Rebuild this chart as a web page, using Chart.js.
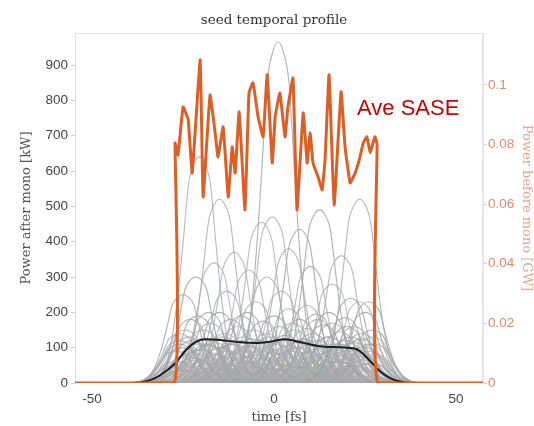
<!DOCTYPE html>
<html>
<head>
<meta charset="utf-8">
<script src="https://cdn.jsdelivr.net/npm/chart.js@4.4.1/dist/chart.umd.min.js"></script>
<style>
  html, body { margin: 0; padding: 0; background: #ffffff; }
  #wrap { width: 534px; height: 426px; }
</style>
</head>
<body>
<div id="wrap"><canvas id="c" width="534" height="426"></canvas></div>
<script>
// Axis ticks
const timeTicks = [-50, 0, 50];
const kwTicks = [0, 100, 200, 300, 400, 500, 600, 700, 800, 900];
const gwTicks = [0, 0.02, 0.04, 0.06, 0.08, 0.1];

// Average SASE power before the monochromator [GW]
const saseTime = [-54.7, -27.4, -27.2, -26.4, -25.0, -23.6, -22.5, -20.3, -19.5, -17.6, -16.2, -15.4, -14.0, -12.6, -11.5,
  -10.7, -9.6, -8.0, -6.9, -5.8, -4.4, -3.0, -1.9, -0.5, 0.3, 1.6, 3.0, 3.8, 5.2, 6.3, 8.0, 9.1, 9.9, 10.7,
  12.1, 13.2, 14.0, 15.1, 16.5, 18.4, 19.5, 20.9, 22.3, 23.6, 24.5, 25.5, 26.4, 27.7, 28.3, 28.5, 57.4];
const sasePower = [0, 0, 0.0805, 0.0765, 0.0926, 0.0883, 0.0705, 0.1084, 0.0624, 0.0966, 0.0839, 0.0758, 0.0859, 0.0624, 0.0792,
  0.0705, 0.0909, 0.0581, 0.0973, 0.1007, 0.0893, 0.0826, 0.1034, 0.0738, 0.0893, 0.0973, 0.0826, 0.0926, 0.1023, 0.0581, 0.0906, 0.0738, 0.0839, 0.0738,
  0.0691, 0.0648, 0.0748, 0.1034, 0.0597, 0.0977, 0.0792, 0.0671, 0.0705, 0.0758, 0.0805, 0.0826, 0.0772, 0.0826, 0.0800, 0, 0];

// Mean seed power after the monochromator [kW]
const aveTime = [-54.7, -38.2, -34.1, -31.3, -27.2, -24.5, -21.7, -19.0, -14.8, -9.3, -5.2, -1.1, 3.0, 7.1, 12.6, 18.1,
  22.3, 24.2, 26.4, 29.1, 31.9, 34.6, 37.4, 57.4];
const avePower = [0, 0, 8, 22, 55, 90, 115, 124, 122, 115, 113, 117, 124, 116, 104, 101,
  97, 85, 62, 33, 14, 4, 0, 0];

// Single-shot spike profile: time offset from the peak [fs] and fraction of peak power
const pulseOffset = [-12.5, -10, -8, -6, -4.5, -3, -1.5, 0, 1.5, 3, 4.5, 6, 8, 10, 12.5];
const pulseFraction = [0, 0.05, 0.16, 0.38, 0.62, 0.88, 0.97, 1, 0.97, 0.88, 0.62, 0.38, 0.16, 0.05, 0];

// Strong shots: peak time [fs] and peak power [kW]
const spikeCenter = [
  1.1, -20.5, -15, -3.5, -0.5, 7, 12.5, 23.5, 18.5, -11, -16.5, -21.5,
  -25, 4, 10, 16, -7, 21, 26, -13, -5, 2, 9, 15, -23, -18, -9, 5, 12, 20, 27, -26, -2, 23.5,
  -27, -26, -25.5, -24.5, -24, -23.5, -22.5, -22, -21, -20.5, -20, -19.5, -19, -18.5, -18, -17.5, -17,
  -16, -15.5, -15, -14.5, -14, -13.5, -12.5, -12, -11.5, -11, -10, -9.5, -9, -8.5, -8, -7.5, -6.5, -6,
  -5.5, -5, -4, -3.5, -3, -2.5, -2, -1, -0.5, 0, 0.5, 1, 1.5, 2.5, 3, 3.5, 4, 4.5, 5.5, 6, 6.5, 7, 7.5,
  8.5, 9, 9.5, 10, 10.5, 11, 11.5, 12.5, 13, 13.5, 14, 15, 15.5, 16, 16.5, 17.5, 18, 18.5, 19, 19.5,
  20.5, 21, 21.5, 22, 23, 23.5, 24, 24.5, 25, 26, 26.5, 27, 27.5
];
const spikePeak = [
  965, 640, 520, 455, 470, 435, 490, 520, 360, 370, 340, 300,
  250, 380, 330, 280, 320, 240, 230, 260, 230, 260, 220, 200, 180, 200, 190, 170, 180, 160, 150, 140, 300, 230,
  60, 110, 35, 150, 80, 45, 120, 70, 190, 95, 40, 150, 65, 110, 30, 170, 85,
  125, 55, 200, 100, 40, 140, 75, 180, 50, 110, 160, 35, 90, 130, 60, 200, 105, 45,
  150, 80, 120, 30, 175, 65, 140, 95, 40, 190, 115, 55, 160, 85, 135, 35, 210, 70, 150, 100, 45, 180, 120,
  60, 155, 90, 30, 140, 75, 195, 110, 50, 165, 85, 130, 40, 170, 95, 60, 145, 110, 35, 185,
  80, 130, 50, 160, 95, 40, 140, 75, 200, 110, 55, 130, 80
];

// Weak shots: peak time [fs] and peak power [kW]
const weakCenter = [
  -27.5, -27, -26.5, -26, -25.5, -25, -24.5, -24, -23.5, -23, -22.5, -22, -21.5, -21, -20.5, -20, -19.5, -19,
  -18.5, -18, -17.5, -17, -16.5, -16, -15.5, -15, -14.5, -14, -13.5, -13, -12.5, -12, -11.5, -11, -10.5, -10,
  -9.5, -9, -8.5, -8, -7.5, -7, -6.5, -6, -5.5, -5, -4.5, -4, -3.5, -3, -2.5, -2, -1.5, -1, -0.5, 0,
  0.5, 1, 1.5, 2, 2.5, 3, 3.5, 4, 4.5, 5, 5.5, 6, 6.5, 7, 7.5, 8, 8.5, 9, 9.5, 10, 10.5, 11, 11.5, 12,
  12.5, 13, 13.5, 14, 14.5, 15, 15.5, 16, 16.5, 17, 17.5, 18, 18.5, 19, 19.5, 20, 20.5, 21, 21.5, 22,
  22.5, 23, 23.5, 24, 24.5, 25, 25.5, 26, 26.5, 27, 27.5
];
const weakPeak = [
  45, 90, 25, 120, 60, 100, 35, 75, 130, 50, 85, 20, 110, 65, 40, 95, 125, 30, 70, 105,
  55, 15, 115, 80, 45, 100, 60, 130, 25, 90, 70, 110, 40, 85, 20, 120, 65, 95, 35, 75,
  105, 50, 125, 30, 80, 60, 115, 45, 90, 20, 100, 70, 130, 40, 85, 55, 110, 25, 95, 65,
  120, 35, 75, 105, 50, 90, 15, 115, 60, 100, 40, 125, 70, 30, 85, 110, 55, 95, 20, 120,
  65, 45, 100, 75, 35, 130, 60, 90, 25, 110, 80, 50, 105, 40, 120, 70, 30, 95, 60, 115,
  45, 85, 20, 125, 65, 100, 35, 90, 55, 75, 110
];

const greyShades = [
  'rgba(165,165,165,0.85)', 'rgba(158,168,182,0.8)', 'rgba(172,172,172,0.85)',
  'rgba(164,178,166,0.8)', 'rgba(176,166,182,0.8)', 'rgba(160,160,160,0.85)'
];

function shotSet(c, peak, i, colour, width) {
  return {
    label: 'shot ' + (i + 1),
    yAxisID: 'y',
    order: 3,
    data: pulseOffset.map((d, k) => ({ x: c + d, y: peak * pulseFraction[k] })),
    borderColor: colour,
    borderWidth: width,
    pointRadius: 0,
    cubicInterpolationMode: 'monotone',
    fill: false
  };
}

const strongSets = spikeCenter.map((c, i) => shotSet(c, spikePeak[i], i, greyShades[i % greyShades.length], 1.1));
const weakSets = weakCenter.map((c, i) => shotSet(c, weakPeak[i], spikeCenter.length + i, 'rgba(178,178,178,0.75)', 1.6));

const aveSet = {
  label: 'mean seed',
  yAxisID: 'y',
  order: 1,
  data: aveTime.map((t, i) => ({ x: t, y: avePower[i] })),
  borderColor: '#1e1e1e',
  borderWidth: 2,
  pointRadius: 0,
  cubicInterpolationMode: 'monotone',
  fill: false
};

const saseSet = {
  label: 'Ave SASE',
  yAxisID: 'y2',
  order: 0,
  data: saseTime.map((t, i) => ({ x: t, y: sasePower[i] })),
  borderColor: '#dd5f26',
  borderWidth: 3,
  pointRadius: 0,
  tension: 0.1,
  fill: false
};

const sansFont = { family: '"Liberation Sans", Arial, sans-serif', size: 13.5 };
const serifFont = { family: '"DejaVu Serif", serif', size: 13 };

const decorations = {
  id: 'decorations',
  beforeDatasetsDraw(chart) {
    const { ctx, chartArea: a } = chart;
    ctx.save();
    ctx.strokeStyle = '#e2e2e2';
    ctx.lineWidth = 1;
    ctx.strokeRect(a.left + 0.5, a.top + 0.5, a.right - a.left - 1, a.bottom - a.top - 1);
    ctx.restore();
  },
  afterDatasetsDraw(chart) {
    const { ctx, chartArea: a, scales } = chart;
    ctx.save();
    // plot title
    ctx.font = '13.5px "DejaVu Serif", serif';
    ctx.fillStyle = '#333333';
    ctx.textAlign = 'center';
    ctx.textBaseline = 'middle';
    ctx.fillText('seed temporal profile', (a.left + a.right) / 2 - 5, 20);
    // series annotation
    ctx.font = '22px "Liberation Sans", Arial, sans-serif';
    ctx.fillStyle = '#cc0000';
    ctx.textAlign = 'left';
    ctx.textBaseline = 'alphabetic';
    ctx.fillText('Ave SASE', scales.x.getPixelForValue(22.8), scales.y2.getPixelForValue(0.0899));
    ctx.restore();
  }
};

new Chart(document.getElementById('c'), {
  type: 'line',
  data: { datasets: [saseSet, aveSet, ...strongSets, ...weakSets] },
  options: {
    responsive: false,
    animation: false,
    events: [],
    layout: { padding: { top: 33, left: 0, right: 0, bottom: 0 } },
    plugins: { legend: { display: false }, tooltip: { enabled: false }, title: { display: false } },
    scales: {
      x: {
        type: 'linear',
        position: 'bottom',
        min: -54.7,
        max: 57.4,
        afterFit: s => { s.height = 43; },
        afterBuildTicks: s => { s.ticks = timeTicks.map(v => ({ value: v })); },
        ticks: { font: sansFont, color: '#444444', padding: 8, maxRotation: 0 },
        grid: { display: false, drawTicks: false },
        border: { display: false },
        title: { display: true, text: 'time [fs]', font: serifFont, color: '#444444', padding: { top: 0, bottom: 1 } }
      },
      y: {
        type: 'linear',
        position: 'left',
        min: 0,
        max: 990.6,
        afterFit: s => { s.width = 75; },
        afterBuildTicks: s => { s.ticks = kwTicks.map(v => ({ value: v })); },
        ticks: { font: sansFont, color: '#444444', padding: 3 },
        grid: { drawOnChartArea: false, tickLength: 4, color: '#cfcfcf' },
        border: { display: true, color: '#d6d6d6' },
        title: { display: true, text: 'Power after mono [kW]', font: serifFont, color: '#555555', padding: { top: 19, bottom: 0 } }
      },
      y2: {
        type: 'linear',
        position: 'right',
        min: 0,
        max: 0.1174,
        afterFit: s => { s.width = 51; },
        afterBuildTicks: s => { s.ticks = gwTicks.map(v => ({ value: v })); },
        ticks: { font: sansFont, color: '#e08a6c', padding: 1, callback: v => String(v) },
        grid: { drawOnChartArea: false, tickLength: 4, color: '#f3c9b8' },
        border: { display: true, color: '#efe9e6' },
        title: { display: true, text: 'Power before mono [GW]', font: serifFont, color: '#eba58b', padding: { top: 0, bottom: 0 } }
      }
    }
  },
  plugins: [decorations]
});
</script>
</body>
</html>
